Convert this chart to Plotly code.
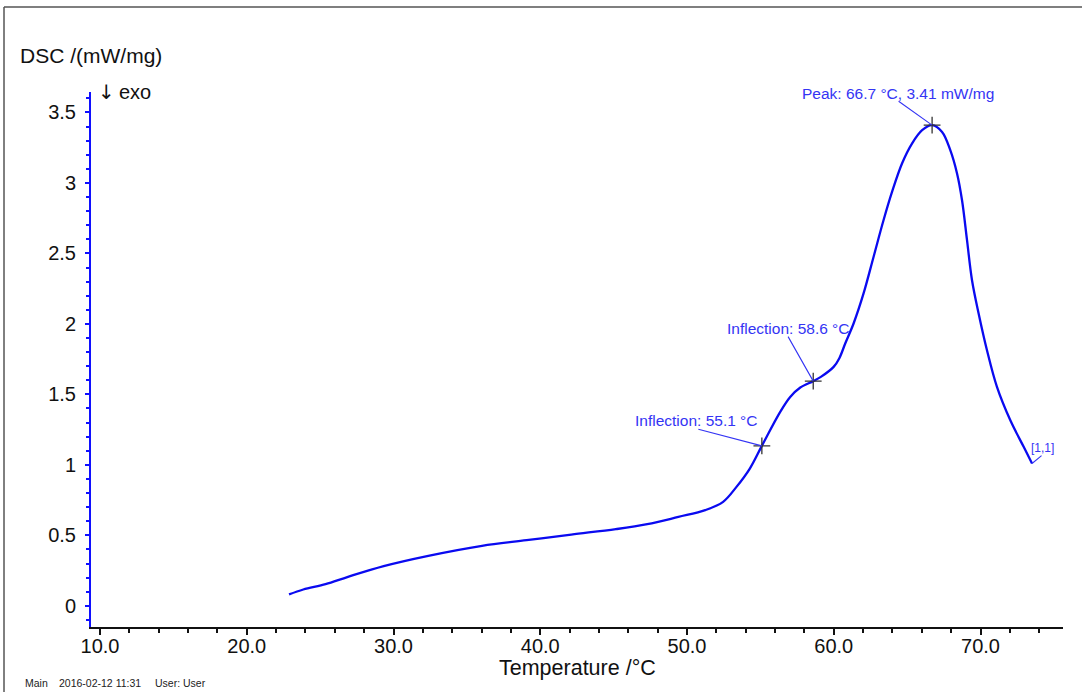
import plotly.graph_objects as go

# DSC heating curve: temperature (°C) and heat flow (mW/mg)
temperature = [22.88, 23.85, 25.37, 26.90, 29.33, 32.37, 36.03, 39.07, 42.11, 45.15,
               47.29, 49.41, 51.24, 52.46, 53.37, 54.28, 55.10, 56.35, 57.03, 57.72,
               58.60, 59.12, 59.99, 60.38, 60.78, 61.35, 62.03, 62.71, 63.39, 63.97,
               64.65, 65.33, 66.02, 66.70, 67.38, 67.94, 68.40, 68.74, 69.08, 69.42,
               69.87, 70.44, 71.12, 72.03, 72.94, 73.51]
dsc = [0.081, 0.116, 0.154, 0.206, 0.282, 0.355, 0.426, 0.466, 0.506, 0.544,
       0.579, 0.631, 0.679, 0.738, 0.844, 0.974, 1.135, 1.376, 1.482, 1.549,
       1.594, 1.624, 1.695, 1.757, 1.861, 2.003, 2.216, 2.475, 2.735, 2.936,
       3.138, 3.279, 3.374, 3.410, 3.362, 3.232, 3.067, 2.877, 2.594, 2.310,
       2.074, 1.813, 1.553, 1.316, 1.128, 1.010]

# Evaluated points
inflection_t = [55.1, 58.6]
inflection_dsc = [1.135, 1.594]
peak_t = 66.7
peak_dsc = 3.41
end_t = temperature[-1]
end_dsc = dsc[-1]

x_ticks = [10.0, 20.0, 30.0, 40.0, 50.0, 60.0, 70.0]
x_tick_labels = ["10.0", "20.0", "30.0", "40.0", "50.0", "60.0", "70.0"]
y_ticks = [0, 0.5, 1, 1.5, 2, 2.5, 3, 3.5]
y_tick_labels = ["0", "0.5", "1", "1.5", "2", "2.5", "3", "3.5"]

FONT = "Liberation Sans, Arial, sans-serif"
CURVE = "#0a0af0"
LABEL = "#3434f4"

fig = go.Figure()

fig.add_trace(go.Scatter(
    x=temperature, y=dsc, mode="lines",
    line=dict(color=CURVE, width=2.3, shape="spline", smoothing=1.0),
    hoverinfo="skip", showlegend=False,
))

fig.add_trace(go.Scatter(
    x=inflection_t + [peak_t], y=inflection_dsc + [peak_dsc], mode="markers",
    marker=dict(symbol="cross-thin", size=12, line=dict(color="#333333", width=1.3)),
    hoverinfo="skip", showlegend=False,
))

annotations = []


def label(x, y, text, xshift, yshift, ax, ay, size=15.5):
    # text placed beside the point, with a thin leader line running to it
    annotations.append(dict(
        x=x, y=y, xref="x", yref="y", text=text, showarrow=False,
        xshift=xshift, yshift=yshift, xanchor="center", yanchor="middle",
        font=dict(family=FONT, size=size, color=LABEL),
    ))
    annotations.append(dict(
        x=x, y=y, xref="x", yref="y", text="", showarrow=True,
        ax=ax, ay=ay, arrowhead=0, arrowwidth=1.1, arrowcolor=LABEL,
        standoff=0, startstandoff=0,
    ))


label(peak_t, peak_dsc, f"Peak: {peak_t} °C, {peak_dsc} mW/mg", -34, 32, -35, -25)
label(inflection_t[1], inflection_dsc[1], f"Inflection: {inflection_t[1]} °C", -25, 53, -26, -46)
label(inflection_t[0], inflection_dsc[0], f"Inflection: {inflection_t[0]} °C", -65, 25, -65, -17)
label(end_t, end_dsc, "[1,1]", 10, 15, 11, -9, size=12)

annotations += [
    dict(x=-0.0751, y=1.069, xref="paper", yref="paper", text="DSC /(mW/mg)",
         showarrow=False, xanchor="left", yanchor="middle",
         font=dict(family=FONT, size=21, color="#111111")),
    dict(x=0.0055, y=1.0, xref="paper", yref="paper", text="↓",
         showarrow=False, xanchor="left", yanchor="middle",
         font=dict(family="DejaVu Sans, sans-serif", size=20, color="#111111")),
    dict(x=0.0270, y=1.0, xref="paper", yref="paper", text="exo",
         showarrow=False, xanchor="left", yanchor="middle",
         font=dict(family=FONT, size=20, color="#111111")),
    dict(x=0.5005, y=-0.0766, xref="paper", yref="paper", text="Temperature /°C",
         showarrow=False, xanchor="center", yanchor="middle",
         font=dict(family=FONT, size=21.5, color="#111111")),
    dict(x=-0.0703, y=-0.1045, xref="paper", yref="paper", text="Main",
         showarrow=False, xanchor="left", yanchor="middle",
         font=dict(family=FONT, size=10.5, color="#222222")),
    dict(x=-0.0350, y=-0.1045, xref="paper", yref="paper", text="2016-02-12 11:31",
         showarrow=False, xanchor="left", yanchor="middle",
         font=dict(family=FONT, size=10.5, color="#222222")),
    dict(x=0.0640, y=-0.1045, xref="paper", yref="paper", text="User: User",
         showarrow=False, xanchor="left", yanchor="middle",
         font=dict(family=FONT, size=10.5, color="#222222")),
]

# page frame (top and left edges)
shapes = [
    dict(type="line", xref="paper", yref="paper", x0=-0.0895, x1=1.03, y0=1.159, y1=1.159,
         line=dict(color="#555555", width=1.5)),
    dict(type="line", xref="paper", yref="paper", x0=-0.0895, x1=-0.0895, y0=1.159, y1=-0.13,
         line=dict(color="#555555", width=1.5)),
]

fig.update_layout(
    width=1082, height=692,
    margin=dict(l=91, r=19, t=92, b=65),
    paper_bgcolor="white", plot_bgcolor="white",
    font=dict(family=FONT, color="#111111"),
    annotations=annotations, shapes=shapes,
    xaxis=dict(
        range=[9.386, 75.62], tickvals=x_ticks, ticktext=x_tick_labels,
        showgrid=False, zeroline=False, showline=True, linecolor="#111111", linewidth=2,
        ticks="outside", ticklen=6, tickwidth=2, tickcolor="#111111",
        minor=dict(dtick=2, tick0=10, ticks="outside", ticklen=4, tickwidth=1.5,
                   tickcolor="#111111", showgrid=False),
        tickfont=dict(family=FONT, size=20, color="#111111"),
        ticklabelstandoff=-6,
    ),
    yaxis=dict(
        range=[-0.15, 3.645], tickvals=y_ticks, ticktext=y_tick_labels,
        showgrid=False, zeroline=False, showline=True, linecolor="#1010ff", linewidth=2,
        ticks="outside", ticklen=4, tickwidth=2, tickcolor="#1010ff",
        minor=dict(dtick=0.1, tick0=0, ticks="outside", ticklen=3, tickwidth=1.5,
                   tickcolor="#1010ff", showgrid=False),
        tickfont=dict(family=FONT, size=20, color="#111111"),
        ticklabelstandoff=5,
    ),
)

fig.write_html("out.html")
